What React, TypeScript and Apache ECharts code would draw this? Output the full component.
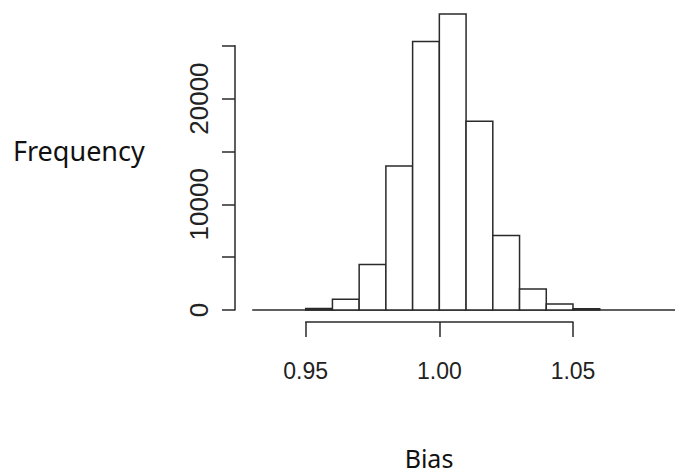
import React, { useEffect, useRef } from "react";
import * as echarts from "echarts";

// Histogram bins (left edges) and counts
const binStarts = [0.95, 0.96, 0.97, 0.98, 0.99, 1.0, 1.01, 1.02, 1.03, 1.04, 1.05];
const counts = [150, 1010, 4310, 13610, 25400, 28000, 17860, 7050, 1980, 570, 120];
const binWidth = 0.01;
// Range covered by the histogram baseline (empty bins included)
const baselineRange = [0.93, 1.1];
const xTicks = [0.95, 1.0, 1.05];
const yTickLabels = [0, 10000, 20000];

export default function App() {
  const ref = useRef<HTMLDivElement>(null);
  useEffect(() => {
    if (!ref.current) return;
    const chart = echarts.init(ref.current, null, { renderer: "svg" });
    const barData = binStarts.map((s, i) => [s, s + binWidth, counts[i]]);
    const lineColor = "#2a2a2a";
    chart.setOption({
      animation: false,
      backgroundColor: "#ffffff",
      grid: { left: 305.7, right: 102, top: 45.7, bottom: 165 },
      xAxis: {
        type: "value",
        min: 0.95,
        max: 1.05,
        interval: 0.05,
        offset: 12,
        splitLine: { show: false },
        axisLine: { show: true, onZero: false, lineStyle: { color: lineColor, width: 1.5 } },
        axisTick: { show: true, length: 15, lineStyle: { color: lineColor, width: 1.5 } },
        axisLabel: {
          margin: 37,
          fontFamily: "Liberation Sans",
          fontSize: 23,
          color: "#222",
          formatter: (v: number) => (xTicks.some((t) => Math.abs(t - v) < 1e-9) ? v.toFixed(2) : ""),
        },
      },
      yAxis: {
        type: "value",
        min: 0,
        max: 25000,
        interval: 5000,
        offset: 70.7,
        splitLine: { show: false },
        axisLine: { show: true, onZero: false, lineStyle: { color: lineColor, width: 1.5 } },
        axisTick: { show: true, length: 13, lineStyle: { color: lineColor, width: 1.5 } },
        axisLabel: {
          rotate: 90,
          margin: 23,
          fontFamily: "Liberation Sans",
          fontSize: 26,
          color: "#222",
          formatter: (v: number) => (yTickLabels.indexOf(v) >= 0 ? String(v) : ""),
        },
      },
      series: [
        {
          type: "custom",
          clip: false,
          data: [[baselineRange[0], baselineRange[1]]],
          renderItem: (params: any, api: any) => {
            const a = api.coord([api.value(0), 0]);
            const b = api.coord([api.value(1), 0]);
            return {
              type: "line",
              shape: { x1: a[0], y1: a[1], x2: b[0], y2: b[1] },
              style: { stroke: lineColor, lineWidth: 1.5 },
            };
          },
          z: 1,
        },
        {
          type: "custom",
          clip: false,
          data: barData,
          renderItem: (params: any, api: any) => {
            const p0 = api.coord([api.value(0), 0]);
            const p1 = api.coord([api.value(1), api.value(2)]);
            return {
              type: "rect",
              shape: { x: p0[0], y: p1[1], width: p1[0] - p0[0], height: p0[1] - p1[1] },
              style: { fill: "#ffffff", stroke: lineColor, lineWidth: 1.5 },
            };
          },
          z: 2,
        },
      ],
      graphic: [
        {
          type: "text",
          left: 13,
          top: 137,
          style: { text: "Frequency", font: "27px 'Noto Sans'", fill: "#111" },
        },
        {
          type: "text",
          x: 429,
          y: 458,
          style: {
            text: "Bias",
            font: "25px 'Noto Sans'",
            fill: "#111",
            align: "center",
            verticalAlign: "middle",
          },
        },
      ],
    });
    return () => chart.dispose();
  }, []);
  return (
    <div
      ref={ref}
      style={{ position: "fixed", left: 0, top: 0, width: 675, height: 475 }}
    />
  );
}
